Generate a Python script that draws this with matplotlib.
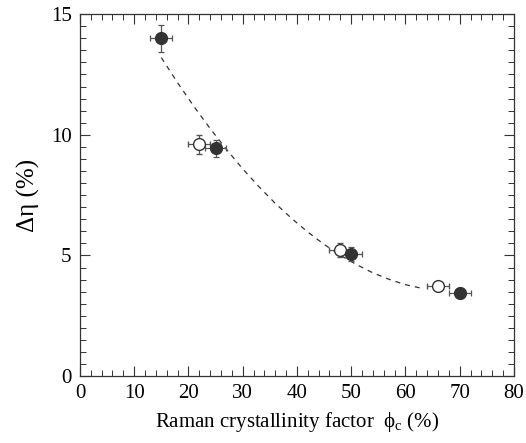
import numpy as np
import matplotlib
matplotlib.use("Agg")
import matplotlib.pyplot as plt
from matplotlib.ticker import MultipleLocator

plt.rcParams['font.family'] = ['Liberation Serif', 'DejaVu Serif']
plt.rcParams['mathtext.fontset'] = 'custom'
plt.rcParams['mathtext.rm'] = 'Liberation Serif'
plt.rcParams['mathtext.it'] = 'Liberation Serif:italic'

# filled symbols
xf = [15, 25, 50, 70]
yf = [14.0, 9.45, 5.05, 3.45]
xf_err = [2.0, 2.0, 2.0, 2.0]
yf_err = [0.55, 0.35, 0.3, 0.15]

# open symbols
xo = [22, 48, 66]
yo = [9.6, 5.22, 3.72]
xo_err = [2.0, 2.0, 2.0]
yo_err = [0.38, 0.3, 0.15]

# dashed guide curve
xc = [15, 18, 21, 24, 27, 30, 33, 36, 39, 42, 45, 48, 51, 54, 57, 60, 63]
yc = [13.2, 12.16, 11.18, 10.26, 9.4, 8.59, 7.85, 7.16, 6.54, 5.97, 5.46,
      5.01, 4.62, 4.28, 4.01, 3.79, 3.64]

fig = plt.figure(figsize=(5.26, 4.43), dpi=100)
ax = fig.add_axes([0.152, 0.151, 0.825, 0.817])

ax.plot(xc, yc, ls=(0, (4, 4)), color='#333333', lw=0.9)
ax.errorbar(xo, yo, xerr=xo_err, yerr=yo_err, fmt='o', ms=8.5, mfc='white',
            mec='#333333', mew=1.0, ecolor='#555555', elinewidth=0.9,
            capsize=2.5, capthick=0.9)
ax.errorbar(xf, yf, xerr=xf_err, yerr=yf_err, fmt='o', ms=8.5, mfc='#333333',
            mec='#333333', ecolor='#555555', elinewidth=0.9,
            capsize=2.5, capthick=0.9)

ax.set_xlim(0, 80)
ax.set_ylim(0, 15)
ax.xaxis.set_major_locator(MultipleLocator(10))
ax.xaxis.set_minor_locator(MultipleLocator(2))
ax.yaxis.set_major_locator(MultipleLocator(5))
ax.yaxis.set_minor_locator(MultipleLocator(0.5))
ax.tick_params(which='both', direction='in', top=True, right=True,
               labelsize=15, color='#333333')
ax.tick_params(which='major', length=7, width=0.8, pad=6)
ax.tick_params(which='minor', length=4, width=0.7)
for s in ax.spines.values():
    s.set_linewidth(0.9)
    s.set_color('#333333')

ax.set_xlabel(r'Raman crystallinity factor  ϕ$_{\rm c}$ (%)', fontsize=15, labelpad=5)
ax.set_ylabel('Δη (%)', fontsize=18, labelpad=8)

fig.savefig('out.png', dpi=100)
